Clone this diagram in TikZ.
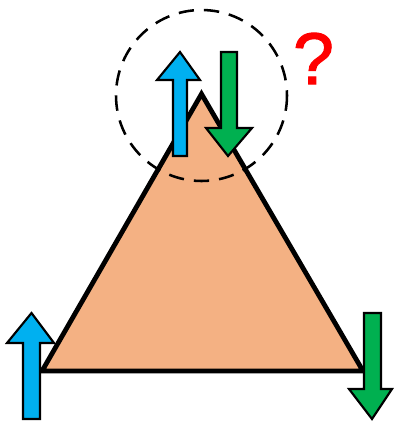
\documentclass[tikz,border=0pt]{standalone}
\usepackage{fontspec}
\setmainfont{Liberation Sans}
\newfontfamily\qfont[FakeBold=1.6]{Liberation Sans}
\definecolor{tri}{HTML}{F4B183}
\definecolor{bluearr}{HTML}{00B0F0}
\definecolor{greenarr}{HTML}{00B050}
\definecolor{qred}{HTML}{FF0000}
\begin{document}
\begin{tikzpicture}[x=0.75pt,y=-0.75pt,
  trishape/.style={fill=tri,draw=black,line width=3.6pt,line join=miter},
  uparrow/.style={fill=bluearr,draw=black,line width=1.6pt,line join=miter},
  downarrow/.style={fill=greenarr,draw=black,line width=1.6pt,line join=miter},
  ringstyle/.style={draw=black,line width=1.9pt,dash pattern=on 11.5pt off 7.5pt}]
\useasboundingbox (0,0) rectangle (393,421);
% triangle
\coordinate (apex) at (201.5,94);
\coordinate (bl) at (42,371);
\coordinate (br) at (363,371);
\draw[trishape] (apex) -- (bl) -- (br) -- cycle;
% dashed circle
\coordinate (ringc) at (201.5,95.5);
\draw[ringstyle] (ringc) circle[radius=85.5];
% top blue arrow (up)
\draw[uparrow] (173,156) -- (173,80) -- (157,80) -- (180,52) -- (200,80) -- (187,80) -- (187,156) -- cycle;
% top green arrow (down)
\draw[downarrow] (221,52) -- (237,52) -- (237,128) -- (252,128) -- (228,156) -- (206,128) -- (221,128) -- cycle;
% left blue arrow (up)
\draw[uparrow] (23,419) -- (23,343) -- (7,343) -- (31.5,313) -- (54,343) -- (40,343) -- (40,419) -- cycle;
% right green arrow (down)
\draw[downarrow] (364,313) -- (381,313) -- (381,389) -- (392,389) -- (372,419) -- (349,389) -- (364,389) -- cycle;
% question mark
\node[text=qred,font=\qfont\fontsize{55pt}{55pt}\selectfont,inner sep=0pt] (q) at (313.5,58.5) {?};
\end{tikzpicture}
\end{document}
